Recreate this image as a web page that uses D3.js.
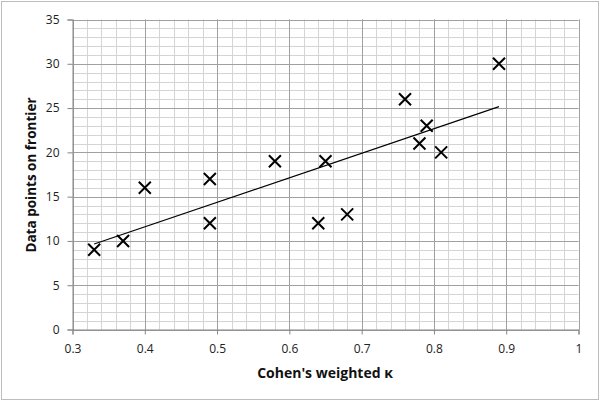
<!DOCTYPE html>
<html><head><meta charset="utf-8">
<script src="https://cdn.jsdelivr.net/npm/d3@7"></script>
<style>html,body{margin:0;padding:0;background:#fff;}svg{display:block;}</style>
</head><body>
<script>
const kappa = [0.33, 0.37, 0.40, 0.49, 0.49, 0.58, 0.64, 0.65, 0.68, 0.76, 0.78, 0.79, 0.81, 0.89];
const frontierPoints = [9, 10, 16, 17, 12, 19, 12, 19, 13, 26, 21, 23, 20, 30];
const xTicks = [0.3, 0.4, 0.5, 0.6, 0.7, 0.8, 0.9, 1];
const yTicks = [0, 5, 10, 15, 20, 25, 30, 35];
const xTitle = "Cohen's weighted κ";
const yTitle = "Data points on frontier";

const W = 600, H = 401;
const svg = d3.select("body").append("svg").attr("width", W).attr("height", H);
svg.append("rect").attr("x", 1.5).attr("y", 1.5).attr("width", W - 3).attr("height", H - 3)
  .attr("fill", "#fff").attr("stroke", "#bdbdbd").attr("stroke-width", 1);

const x = d3.scaleLinear().domain([0.3, 1]).range([72.5, 578.5]);
const y = d3.scaleLinear().domain([0, 35]).range([329.5, 19.5]);

const g = svg.append("g");
// minor grid
const xMinor = d3.range(0, 36).map(i => 0.3 + i * 0.02);
const yMinor = d3.range(0, 36);
g.selectAll(".vxm").data(xMinor).join("line")
  .attr("x1", d => Math.round(x(d)) + 0.5).attr("x2", d => Math.round(x(d)) + 0.5)
  .attr("y1", y(0)).attr("y2", y(35)).attr("stroke", "#d4d4d4").attr("stroke-width", 1);
g.selectAll(".hym").data(yMinor).join("line")
  .attr("y1", d => Math.round(y(d)) + 0.5).attr("y2", d => Math.round(y(d)) + 0.5)
  .attr("x1", x(0.3)).attr("x2", x(1)).attr("stroke", "#d4d4d4").attr("stroke-width", 1);
// major grid
g.selectAll(".vxM").data(xTicks).join("line")
  .attr("x1", d => Math.round(x(d)) + 0.5).attr("x2", d => Math.round(x(d)) + 0.5)
  .attr("y1", y(0)).attr("y2", y(35)).attr("stroke", "#a0a0a0").attr("stroke-width", 1);
g.selectAll(".hyM").data(yTicks).join("line")
  .attr("y1", d => Math.round(y(d)) + 0.5).attr("y2", d => Math.round(y(d)) + 0.5)
  .attr("x1", x(0.3)).attr("x2", x(1)).attr("stroke", "#a0a0a0").attr("stroke-width", 1);

// axes
const font = "'Open Sans', sans-serif";
const xAxis = svg.append("g").attr("transform", `translate(0,${y(0)})`)
  .call(d3.axisBottom(x).tickValues(xTicks).tickSize(5).tickPadding(10).tickFormat(d => String(d)));
const yAxis = svg.append("g").attr("transform", `translate(${x(0.3)},0)`)
  .call(d3.axisLeft(y).tickValues(yTicks).tickSize(5).tickPadding(8).tickFormat(d => String(d)));
[xAxis, yAxis].forEach(a => {
  a.select(".domain").attr("stroke", "#868686");
  a.selectAll(".tick line").attr("stroke", "#868686");
  a.selectAll(".tick text").attr("fill", "#222").style("font-family", font).style("font-size", "12px");
});

// trend line (least squares fit of the data)
const n = kappa.length;
const mx = d3.mean(kappa), my = d3.mean(frontierPoints);
let sxy = 0, sxx = 0;
for (let i = 0; i < n; i++) { sxy += (kappa[i] - mx) * (frontierPoints[i] - my); sxx += (kappa[i] - mx) ** 2; }
const slope = sxy / sxx, icpt = my - slope * mx;
const x0 = d3.min(kappa), x1 = d3.max(kappa);
svg.append("line").attr("x1", x(x0)).attr("y1", y(icpt + slope * x0))
  .attr("x2", x(x1)).attr("y2", y(icpt + slope * x1)).attr("stroke", "#000").attr("stroke-width", 1.1);

// markers
const s = 6;
const pts = kappa.map((k, i) => [k, frontierPoints[i]]);
svg.selectAll(".mk").data(pts).join("path")
  .attr("d", d => {
    const cx = x(d[0]), cy = y(d[1]);
    return `M${cx - s},${cy - s}L${cx + s},${cy + s}M${cx - s},${cy + s}L${cx + s},${cy - s}`;
  })
  .attr("stroke", "#000").attr("stroke-width", 2).attr("fill", "none");

// titles
svg.append("text").attr("x", 325).attr("y", 378).attr("text-anchor", "middle")
  .style("font-family", font).style("font-size", "14px").style("font-weight", "bold").attr("fill", "#111").text(xTitle);
svg.append("text").attr("transform", "translate(36,175) rotate(-90)").attr("text-anchor", "middle")
  .style("font-family", font).style("font-size", "13.5px").style("font-weight", "bold").attr("fill", "#111").text(yTitle);
</script>
</body></html>
